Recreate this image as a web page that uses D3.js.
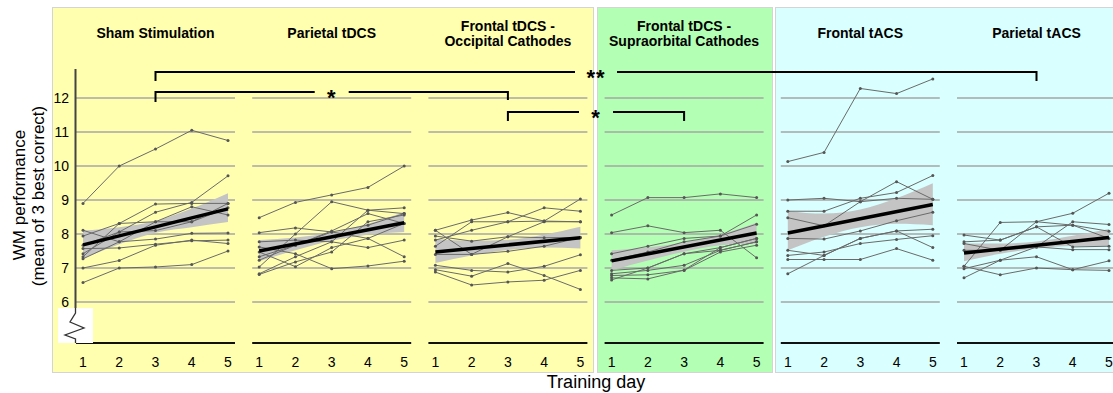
<!DOCTYPE html>
<html>
<head>
<meta charset="utf-8">
<title>WM performance by training day</title>
<style>
  body { margin: 0; background: #fff; }
  svg text { font-family: "Liberation Sans", Arial, sans-serif; fill: #000; }
</style>
</head>
<body>
<svg id="chart" width="1113" height="393"></svg>
<script src="https://cdnjs.cloudflare.com/ajax/libs/d3/7.8.5/d3.min.js"></script>
<script>
// ---- data ----
var days = [1, 2, 3, 4, 5];
var yTicks = [6, 7, 8, 9, 10, 11, 12];
var panelTitles = [
  ["Sham Stimulation"],
  ["Parietal tDCS"],
  ["Frontal tDCS -", "Occipital Cathodes"],
  ["Frontal tDCS -", "Supraorbital Cathodes"],
  ["Frontal tACS"],
  ["Parietal tACS"]
];

var shamSubjects = [
  [8.9, 10.0, 10.5, 11.05, 10.75],
  [6.57, 7.0, 7.03, 7.1, 7.5],
  [7.0, 7.22, 7.67, 7.82, 7.72],
  [7.57, 7.59, 7.7, 7.8, 7.82],
  [8.11, 7.77, 7.85, 8.02, 8.03],
  [7.33, 8.31, 8.88, 8.9, 8.9],
  [7.42, 8.06, 8.64, 8.93, 9.71],
  [7.94, 8.31, 8.36, 8.8, 8.56],
  [7.27, 7.77, 8.36, 8.36, 8.77],
  [7.67, 8.06, 8.1, 8.36, 8.9]
];
var parietalTdcsSubjects = [
  [8.48, 8.93, 9.15, 9.37, 10.0],
  [8.04, 8.18, 8.06, 7.87, 7.33],
  [7.03, 8.0, 8.95, 8.7, 8.6],
  [6.83, 7.33, 7.77, 8.7, 8.77],
  [7.62, 7.42, 6.98, 7.06, 7.2],
  [7.23, 7.67, 8.09, 8.6, 8.31],
  [7.77, 7.82, 7.77, 7.6, 7.82],
  [6.81, 7.18, 7.47, 8.36, 8.56],
  [7.47, 7.04, 7.6, 7.87, 8.31],
  [7.33, 7.67, 8.06, 8.26, 8.6]
];
var occipitalSubjects = [
  [7.64, 8.36, 8.36, 8.38, 9.03],
  [8.11, 8.41, 8.63, 8.38, 8.36],
  [7.82, 8.11, 8.36, 8.77, 8.67],
  [7.94, 7.79, 7.92, 8.36, 8.36],
  [7.4, 7.4, 7.92, 7.89, 7.9],
  [8.11, 7.4, 7.49, 7.64, 7.9],
  [7.08, 6.93, 6.88, 7.05, 7.39],
  [6.95, 6.76, 7.13, 6.78, 6.37],
  [6.88, 6.5, 6.59, 6.64, 6.93]
];
var supraorbitalSubjects = [
  [8.56, 9.07, 9.07, 9.18, 9.07],
  [8.04, 8.24, 8.04, 8.11, 7.3],
  [7.42, 7.64, 7.87, 7.94, 8.56],
  [7.23, 7.47, 7.77, 7.94, 8.29],
  [6.93, 7.0, 7.42, 7.6, 7.87],
  [6.83, 6.93, 7.08, 7.52, 7.77],
  [6.78, 6.8, 6.93, 7.47, 7.67],
  [6.71, 6.68, 6.94, 7.6, 7.87],
  [6.65, 7.0, 7.42, 7.52, 7.77]
];
var frontalTacsSubjects = [
  [10.13, 10.4, 12.28, 12.13, 12.56],
  [9.0, 9.05, 8.95, 9.05, 9.02],
  [8.67, 8.67, 9.05, 9.22, 9.72],
  [8.48, 8.24, 8.95, 9.54, 9.02],
  [7.87, 7.85, 8.09, 8.39, 8.64],
  [7.52, 7.37, 7.87, 8.09, 8.14],
  [7.37, 7.47, 7.72, 7.84, 7.95],
  [7.25, 7.25, 7.25, 7.57, 7.23],
  [6.83, 7.37, 7.87, 8.09, 7.6]
];
var parietalTacsSubjects = [
  [7.05, 8.34, 8.36, 8.61, 9.2],
  [7.97, 7.82, 8.21, 8.26, 8.08],
  [7.77, 7.82, 8.21, 7.62, 7.64],
  [7.72, 7.52, 7.62, 8.36, 8.28],
  [7.52, 7.52, 8.36, 8.26, 7.87],
  [6.98, 7.23, 7.33, 6.95, 7.21],
  [6.71, 7.23, 7.62, 7.54, 7.54],
  [7.05, 6.8, 7.0, 6.95, 6.93]
];
var subjectsByPanel = [shamSubjects, parietalTdcsSubjects, occipitalSubjects,
  supraorbitalSubjects, frontalTacsSubjects, parietalTacsSubjects];

// group fit: value at day 1 and day 5
var fitEnds = [[7.68, 8.74], [7.5, 8.33], [7.47, 7.89], [7.21, 8.03], [8.03, 8.87], [7.44, 7.9]];
// confidence band, days 1..5
var ciLower = [
  [7.28, 7.7, 8.04, 8.2, 8.35],
  [7.2, 7.52, 7.8, 7.98, 8.06],
  [7.15, 7.37, 7.53, 7.6, 7.57],
  [6.93, 7.22, 7.48, 7.67, 7.72],
  [7.52, 7.92, 8.2, 8.3, 8.26],
  [7.2, 7.42, 7.57, 7.65, 7.65]
];
var ciUpper = [
  [8.1, 8.2, 8.38, 8.75, 9.2],
  [7.82, 7.9, 8.04, 8.3, 8.65],
  [7.85, 7.8, 7.83, 7.98, 8.21],
  [7.52, 7.6, 7.76, 7.98, 8.33],
  [8.67, 8.6, 8.72, 9.05, 9.49],
  [7.72, 7.72, 7.78, 7.95, 8.15]
];
// significance brackets: [from panel, to panel, label] (both ends at day 3)
var brackets = [[0, 5, "**"], [0, 2, "*"], [2, 3, "*"]];

// ---- layout ----
var svg = d3.select("#chart");
var panelLeft = function(i) { return 76 + i * 176.2; };
var panelW = 159;
var baseY = 343;

var y = d3.scaleLinear().domain([6, 12]).range([302, 98]);
var xScales = panelTitles.map(function(t, i) {
  return d3.scaleLinear().domain([1, 5]).range([panelLeft(i) + 7, panelLeft(i) + 152]);
});

// coloured backgrounds
var bgs = [
  {x0: 52, x1: 593, fill: "#ffffaf"},
  {x0: 597, x1: 772, fill: "#b3ffb3"},
  {x0: 775, x1: 1120, fill: "#d9ffff"}
];
svg.selectAll("rect.bg").data(bgs).enter().append("rect")
  .attr("class", "bg")
  .attr("x", function(d) { return d.x0 + 0.5; })
  .attr("y", 7.5)
  .attr("width", function(d) { return d.x1 - d.x0; })
  .attr("height", 365)
  .attr("fill", function(d) { return d.fill; })
  .attr("stroke", "#d4d4d4")
  .attr("stroke-width", 1);

// titles
panelTitles.forEach(function(lines, i) {
  var cx = panelLeft(i) + panelW / 2;
  var t = svg.append("text")
    .attr("text-anchor", "middle")
    .attr("font-weight", "bold")
    .attr("font-size", 14);
  lines.forEach(function(s, k) {
    t.append("tspan")
      .attr("x", cx)
      .attr("y", lines.length === 1 ? 38 : 31 + k * 15)
      .text(s);
  });
});

var line = d3.line()
  .x(function(d, i) { return this.xs(days[i]); })
  .y(function(d) { return y(d); });

subjectsByPanel.forEach(function(subjects, i) {
  var x = xScales[i];
  var g = svg.append("g");

  // gridlines
  g.selectAll("line.grid").data(yTicks).enter().append("line")
    .attr("x1", panelLeft(i)).attr("x2", panelLeft(i) + panelW)
    .attr("y1", function(d) { return y(d); })
    .attr("y2", function(d) { return y(d); })
    .attr("stroke", "#a6a6a6").attr("stroke-width", 1.3);

  // confidence band
  var band = d3.area()
    .x(function(d, k) { return x(days[k]); })
    .y0(function(d, k) { return y(ciLower[i][k]); })
    .y1(function(d) { return y(d); })
    .curve(d3.curveMonotoneX);
  g.append("path")
    .attr("d", band(ciUpper[i]))
    .attr("fill", "#c4c4c4");

  // subjects
  var subLine = d3.line()
    .x(function(d, k) { return x(days[k]); })
    .y(function(d) { return y(d); });
  g.selectAll("path.subj").data(subjects).enter().append("path")
    .attr("d", subLine)
    .attr("fill", "none")
    .attr("stroke", "#6a6a6a")
    .attr("stroke-width", 1);
  subjects.forEach(function(s) {
    g.selectAll(null).data(s).enter().append("circle")
      .attr("cx", function(d, k) { return x(days[k]); })
      .attr("cy", function(d) { return y(d); })
      .attr("r", 1.5)
      .attr("fill", "#555");
  });

  // fit line
  g.append("line")
    .attr("x1", x(1)).attr("x2", x(5))
    .attr("y1", y(fitEnds[i][0])).attr("y2", y(fitEnds[i][1]))
    .attr("stroke", "#000").attr("stroke-width", 3.5);

  // x axis
  g.append("line")
    .attr("x1", panelLeft(i)).attr("x2", panelLeft(i) + panelW)
    .attr("y1", baseY).attr("y2", baseY)
    .attr("stroke", "#111").attr("stroke-width", 2);
  g.selectAll("text.tick").data(days).enter().append("text")
    .attr("x", function(d) { return x(d); })
    .attr("y", 367)
    .attr("text-anchor", "middle")
    .attr("font-size", 14)
    .text(function(d) { return d; });
});

// y axis
svg.append("line")
  .attr("x1", 75.5).attr("x2", 75.5).attr("y1", 69).attr("y2", 343)
  .attr("stroke", "#444").attr("stroke-width", 2);
svg.selectAll("text.ytick").data(yTicks).enter().append("text")
  .attr("x", 69).attr("y", function(d) { return y(d); })
  .attr("dy", "0.36em")
  .attr("text-anchor", "end")
  .attr("font-size", 14)
  .text(function(d) { return d; });

// axis break
svg.append("rect").attr("x", 58).attr("y", 308).attr("width", 35).attr("height", 35).attr("fill", "#fff");
svg.append("path")
  .attr("d", "M75.5,308 L75.5,313 L70,322 L84,328 L65,335 L75.5,339 L75.5,343")
  .attr("fill", "none").attr("stroke", "#333").attr("stroke-width", 1.3);

// axis titles
svg.append("text")
  .attr("transform", "translate(25,195) rotate(-90)")
  .attr("text-anchor", "middle")
  .attr("font-size", 17)
  .text("WM performance");
svg.append("text")
  .attr("transform", "translate(44,196) rotate(-90)")
  .attr("text-anchor", "middle")
  .attr("font-size", 17)
  .text("(mean of 3 best correct)");
svg.append("text")
  .attr("x", 596).attr("y", 388)
  .attr("text-anchor", "middle")
  .attr("font-size", 18)
  .text("Training day");

// significance brackets
var levels = [72, 92, 112];
var drops = [[9, 9], [10, 8], [9, 9]];
brackets.forEach(function(b, k) {
  var xa = xScales[b[0]](3), xb = xScales[b[1]](3);
  var mid = (xa + xb) / 2, gap = b[2].length > 1 ? 21 : 17;
  var lv = levels[k];
  var p = "M" + xa + "," + (lv + drops[k][0]) + " L" + xa + "," + lv + " L" + (mid - gap) + "," + lv +
          " M" + (mid + gap) + "," + lv + " L" + xb + "," + lv + " L" + xb + "," + (lv + drops[k][1]);
  svg.append("path").attr("d", p).attr("fill", "none").attr("stroke", "#000").attr("stroke-width", 2);
  svg.append("text")
    .attr("x", mid).attr("y", lv + 13)
    .attr("text-anchor", "middle")
    .attr("font-size", 22)
    .attr("font-weight", "bold")
    .attr("letter-spacing", 1)
    .text(b[2]);
});
</script>
</body>
</html>
